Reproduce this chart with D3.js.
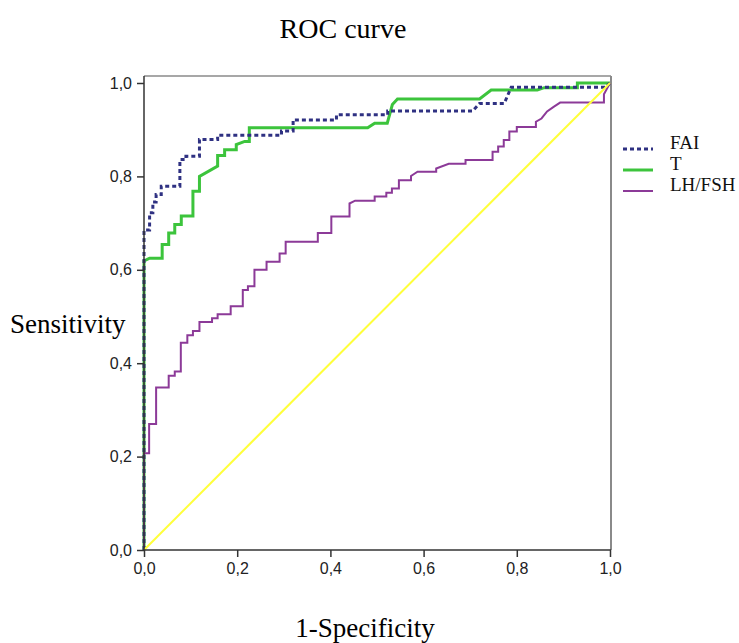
<!DOCTYPE html>
<html>
<head>
<meta charset="utf-8">
<script src="https://cdn.jsdelivr.net/npm/d3@7"></script>
<style>
  body { margin: 0; background: #fff; }
  svg { display: block; }
</style>
</head>
<body>
<div id="chart"></div>
<script>
// ROC vertices, [1-specificity, sensitivity]
const fai = [
  [0, 0], [0, 0.685], [0.012, 0.685], [0.012, 0.722], [0.019, 0.722], [0.019, 0.745],
  [0.026, 0.745], [0.026, 0.761], [0.037, 0.761], [0.037, 0.779], [0.077, 0.779],
  [0.077, 0.836], [0.09, 0.836], [0.09, 0.843], [0.119, 0.843], [0.119, 0.879],
  [0.158, 0.879], [0.158, 0.888], [0.295, 0.888], [0.295, 0.897], [0.32, 0.897],
  [0.32, 0.921], [0.413, 0.921], [0.413, 0.932], [0.523, 0.932], [0.523, 0.94],
  [0.705, 0.94], [0.72, 0.956], [0.773, 0.956], [0.788, 0.991], [0.99, 0.991], [1, 1]
];
const t = [
  [0, 0], [0, 0.619], [0.012, 0.625], [0.039, 0.625], [0.039, 0.654], [0.053, 0.654],
  [0.053, 0.679], [0.066, 0.679], [0.066, 0.697], [0.08, 0.697], [0.08, 0.715],
  [0.105, 0.715], [0.105, 0.768], [0.119, 0.768], [0.119, 0.8], [0.158, 0.822],
  [0.158, 0.845], [0.173, 0.845], [0.173, 0.857], [0.198, 0.857], [0.198, 0.868],
  [0.216, 0.875], [0.226, 0.875], [0.226, 0.904], [0.48, 0.904], [0.495, 0.914],
  [0.522, 0.914], [0.533, 0.954], [0.544, 0.966], [0.72, 0.966], [0.745, 0.985],
  [0.844, 0.985], [0.859, 0.99], [0.93, 0.99], [0.93, 1], [1, 1]
];
const lhfsh = [
  [0, 0], [0, 0.207], [0.011, 0.207], [0.011, 0.27], [0.026, 0.27], [0.026, 0.348],
  [0.053, 0.348], [0.053, 0.373], [0.066, 0.373], [0.066, 0.382], [0.079, 0.382],
  [0.079, 0.444], [0.093, 0.444], [0.093, 0.46], [0.105, 0.46], [0.105, 0.469],
  [0.119, 0.469], [0.119, 0.488], [0.146, 0.488], [0.146, 0.496], [0.158, 0.496],
  [0.158, 0.505], [0.186, 0.505], [0.186, 0.522], [0.212, 0.522], [0.212, 0.557],
  [0.223, 0.557], [0.223, 0.565], [0.237, 0.565], [0.237, 0.6], [0.263, 0.6],
  [0.263, 0.617], [0.291, 0.617], [0.291, 0.635], [0.304, 0.635], [0.304, 0.66],
  [0.373, 0.66], [0.373, 0.679], [0.402, 0.679], [0.402, 0.714], [0.441, 0.714],
  [0.441, 0.742], [0.453, 0.748], [0.495, 0.748], [0.495, 0.757], [0.52, 0.757],
  [0.52, 0.765], [0.532, 0.765], [0.532, 0.774], [0.547, 0.774], [0.547, 0.792],
  [0.573, 0.792], [0.573, 0.801], [0.587, 0.81], [0.627, 0.81], [0.627, 0.817],
  [0.654, 0.827], [0.69, 0.827], [0.69, 0.835], [0.748, 0.835], [0.748, 0.853],
  [0.76, 0.853], [0.76, 0.864], [0.772, 0.864], [0.772, 0.878], [0.784, 0.878],
  [0.784, 0.896], [0.8, 0.896], [0.8, 0.906], [0.841, 0.906], [0.841, 0.917],
  [0.853, 0.924], [0.865, 0.939], [0.879, 0.949], [0.893, 0.958], [0.987, 0.958],
  [0.987, 0.976], [1, 1]
];
const reference = [[0, 0], [1, 1]];
const ticks = [0, 0.2, 0.4, 0.6, 0.8, 1.0];

const series = [
  { name: "FAI", data: fai, color: "#2f3182", width: 3, dash: "4,3" },
  { name: "T", data: t, color: "#3cc43c", width: 3, dash: null },
  { name: "LH/FSH", data: lhfsh, color: "#8c3a98", width: 2, dash: null }
];

const width = 739, height = 643;
const fmt = d => d3.format(".1f")(d).replace(".", ",");

const svg = d3.select("#chart")
  .append("svg")
  .attr("width", width)
  .attr("height", height);

const x = d3.scaleLinear().domain([0, 1]).range([144, 610]);
const y = d3.scaleLinear().domain([0, 1]).range([550, 83]);

// frame (top and right in grey)
svg.append("line")
  .attr("x1", 144).attr("x2", 611).attr("y1", 76).attr("y2", 76)
  .attr("stroke", "#8a8a8a").attr("stroke-width", 1.5);
svg.append("line")
  .attr("x1", 611).attr("x2", 611).attr("y1", 76).attr("y2", 550)
  .attr("stroke", "#8a8a8a").attr("stroke-width", 2);

const line = d3.line()
  .x(d => x(d[0]))
  .y(d => y(d[1]));

// draw order: T, LH/FSH, FAI, then reference
[series[1], series[2], series[0]].forEach(s => {
  svg.append("path")
    .datum(s.data)
    .attr("d", line)
    .attr("fill", "none")
    .attr("stroke", s.color)
    .attr("stroke-width", s.width)
    .attr("stroke-dasharray", s.dash)
    .attr("stroke-linejoin", "miter");
});

svg.append("path")
  .datum(reference)
  .attr("d", line)
  .attr("fill", "none")
  .attr("stroke", "#ffff3a")
  .attr("stroke-width", 2);

// axes
const xAxis = svg.append("g")
  .attr("transform", "translate(0,550)")
  .call(d3.axisBottom(x).tickValues(ticks).tickFormat(fmt).tickSize(7).tickSizeOuter(0).tickPadding(6));
const yAxis = svg.append("g")
  .attr("transform", "translate(144,0)")
  .call(d3.axisLeft(y).tickValues(ticks).tickFormat(fmt).tickSize(7).tickSizeOuter(0).tickPadding(5));

[xAxis, yAxis].forEach(g => {
  g.select(".domain").remove();
  g.selectAll("line").attr("stroke", "#333").attr("stroke-width", 1.5);
  g.selectAll("text")
    .attr("fill", "#222")
    .style("font-family", "'Liberation Sans', Arial, sans-serif")
    .style("font-size", "16px");
});

svg.append("line")
  .attr("x1", 144).attr("x2", 144).attr("y1", 76).attr("y2", 551)
  .attr("stroke", "#333").attr("stroke-width", 1.5);
svg.append("line")
  .attr("x1", 143).attr("x2", 611).attr("y1", 550).attr("y2", 550)
  .attr("stroke", "#333").attr("stroke-width", 1.5);

// titles
const serif = "'Liberation Serif', 'Times New Roman', serif";
svg.append("text")
  .attr("x", 343).attr("y", 38)
  .attr("text-anchor", "middle")
  .style("font-family", serif).style("font-size", "28px")
  .text("ROC curve");
svg.append("text")
  .attr("x", 10).attr("y", 333)
  .style("font-family", serif).style("font-size", "27px")
  .text("Sensitivity");
svg.append("text")
  .attr("x", 365).attr("y", 637)
  .attr("text-anchor", "middle")
  .style("font-family", serif).style("font-size", "27px")
  .text("1-Specificity");

// legend
const legend = svg.append("g")
  .selectAll("g")
  .data(series)
  .enter()
  .append("g")
  .attr("transform", (d, i) => `translate(623,${149 + i * 21})`);

legend.append("line")
  .attr("x1", 0).attr("x2", 30)
  .attr("stroke", d => d.color)
  .attr("stroke-width", d => d.width)
  .attr("stroke-dasharray", d => d.dash);

legend.append("text")
  .attr("x", 47).attr("y", 0)
  .style("font-family", serif).style("font-size", "19px")
  .attr("fill", "#111")
  .text(d => d.name);
</script>
</body>
</html>
